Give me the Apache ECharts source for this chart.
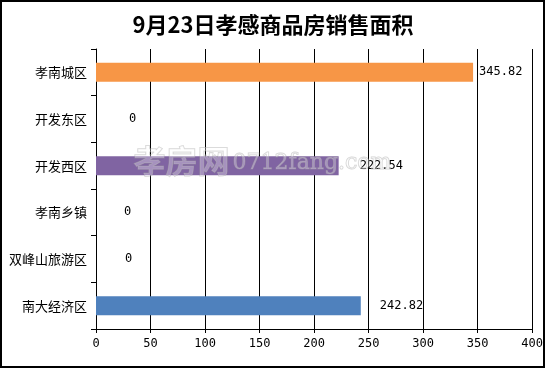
<!DOCTYPE html>
<html><head><meta charset="utf-8">
<script src="https://cdn.jsdelivr.net/npm/echarts@6/dist/echarts.min.js"></script>
<style>html,body{margin:0;padding:0;background:#fff}#c{width:546px;height:369px}</style>
</head><body><div id="c"></div>
<script>
var categories = ['孝南城区','开发东区','开发西区','孝南乡镇','双峰山旅游区','南大经济区'];
var values = [345.82, 0, 222.54, 0, 0, 242.82];
var colors = ['#F79646','#4F81BD','#8064A2','#4F81BD','#4F81BD','#4F81BD'];
var labelOffsets = [6, 33, 21, 28, 29, 19];
var xTicks = [0,50,100,150,200,250,300,350,400];

var chart = echarts.init(document.getElementById('c'));
var data = values.map(function(v,i){
  return {value:v, itemStyle:{color:colors[i]}, label:{offset:[labelOffsets[i]-5,0]}};
});
chart.setOption({
  animation:false,
  title:{text:'9月23日孝感商品房销售面积', left:'center', top:9,
    textStyle:{fontFamily:'Noto Sans CJK SC', fontWeight:'bold', fontSize:22, color:'#000'}},
  grid:{left:96, right:9, top:49, bottom:40},
  xAxis:{type:'value', min:0, max:400, interval:50,
    axisLine:{show:true, lineStyle:{color:'#000', width:1}},
    axisTick:{show:true, length:4, lineStyle:{color:'#000'}},
    axisLabel:{color:'#000', fontSize:12, margin:9, fontFamily:'DejaVu Sans Mono',
      formatter:function(v){return xTicks.indexOf(v)>=0?String(v):'';}},
    splitLine:{show:true, lineStyle:{color:'#000', width:1}}},
  yAxis:{type:'category', data:categories, inverse:true,
    axisLine:{show:true, lineStyle:{color:'#000', width:1}},
    axisTick:{show:true, length:5, lineStyle:{color:'#000'}},
    axisLabel:{color:'#000', fontSize:13, margin:9, fontFamily:'Noto Sans CJK SC'}},
  series:[{type:'bar', data:data, barWidth:19,
    label:{show:true, position:'right', color:'#000', fontSize:12, fontFamily:'DejaVu Sans Mono'}}],
  graphic:[
    {type:'text', left:133, top:144, z:100, silent:true,
      style:{text:'孝房网', font:'bold 32px "Noto Sans CJK SC"', fill:'rgba(255,255,255,0.3)', stroke:'rgba(160,160,160,0.45)', lineWidth:1}},
    {type:'text', left:232, top:152, z:100, silent:true,
      style:{text:'0712fang.com', font:'22px "DejaVu Serif"', fill:'rgba(255,255,255,0.3)', stroke:'rgba(160,160,160,0.45)', lineWidth:1}},
    {type:'rect', shape:{x:1, y:1, width:543, height:366}, z:100, silent:true,
      style:{fill:'none', stroke:'#000', lineWidth:2}}
  ]
});
</script></body></html>
